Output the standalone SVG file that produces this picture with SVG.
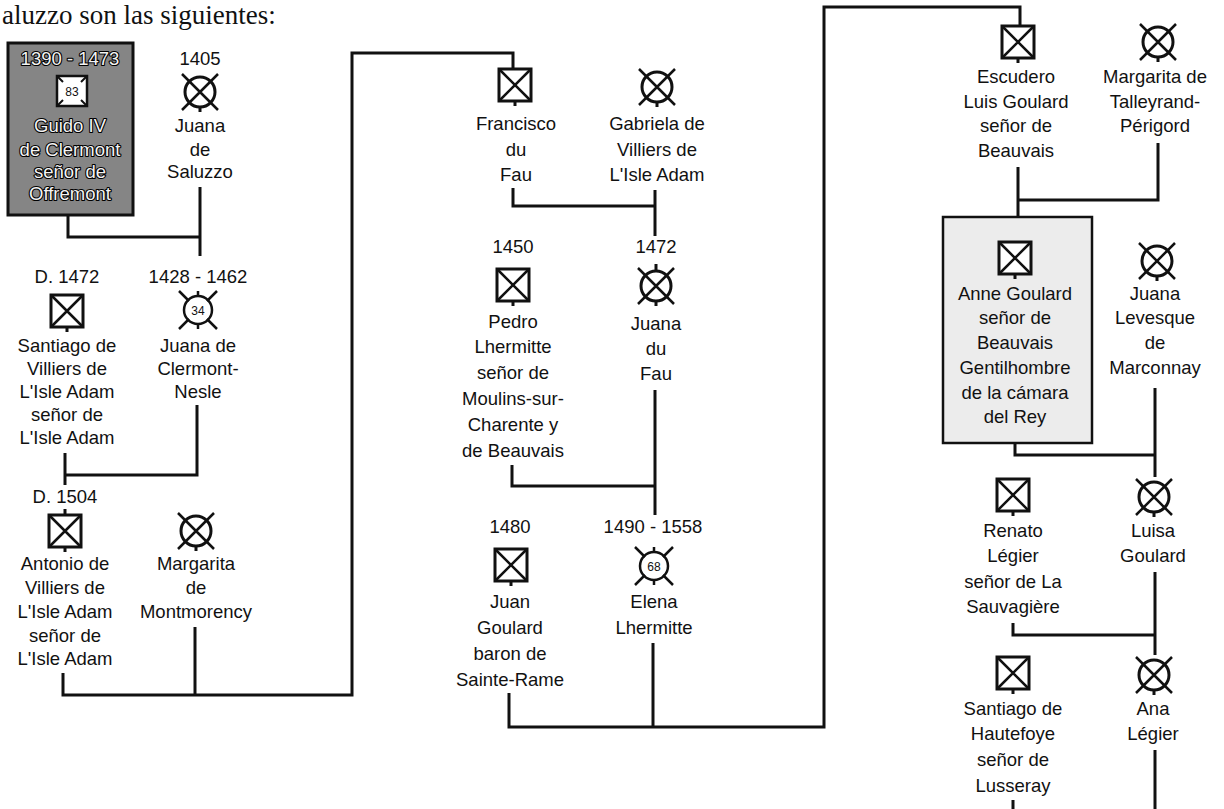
<svg xmlns="http://www.w3.org/2000/svg" width="1224" height="809" viewBox="0 0 1224 809">
<style>
.t{font-family:"Liberation Sans",Arial,sans-serif;font-size:18.5px;text-anchor:middle;fill:#111}
.w{fill:#f4f4f4;stroke:#000;stroke-width:2.2px;paint-order:stroke;stroke-linejoin:round}
.n{font-family:"Liberation Sans",Arial,sans-serif;font-size:12px;text-anchor:middle;fill:#111}
.c{fill:none;stroke:#111;stroke-width:3;stroke-linejoin:miter}
.hd{font-family:"Liberation Serif","Times New Roman",serif;font-size:27px;fill:#111}
</style>
<defs>
<g id="male">
<rect x="-16" y="-16" width="32" height="32" fill="#fff" stroke="#111" stroke-width="3"/>
<path d="M-16,-16 L16,16 M16,-16 L-16,16" stroke="#111" stroke-width="2.5"/>
<path d="M0,16 V21" stroke="#111" stroke-width="3"/>
</g>
<g id="female">
<circle r="15" fill="none" stroke="#111" stroke-width="3"/>
<path d="M-18,-18 L18,18 M18,-18 L-18,18" stroke="#111" stroke-width="2.5"/>
<path d="M0,15 V20" stroke="#111" stroke-width="3"/>
</g>
<g id="female-age">
<circle r="14" fill="#fff" stroke="#111" stroke-width="2.5"/>
<path d="M-19,-19 L-9,-9 M19,-19 L9,-9 M-19,19 L-9,9 M19,19 L9,9 M0,-14 V-19 M0,14 V19" stroke="#111" stroke-width="2.5"/>
</g>
</defs>

<text class="hd" x="2" y="24">aluzzo son las siguientes:</text>

<g id="connectors" class="c">
<path d="M68,215 V237 H200"/>
<path d="M200,187 V256"/>
<path d="M65,453 V485"/>
<path d="M65,475 H197 V405"/>
<path d="M63,673 V695 H352 V53 H513 V68"/>
<path d="M195,627 V695"/>
<path d="M513,188 V206 H655"/>
<path d="M655,190 V236"/>
<path d="M512,465 V486 H655"/>
<path d="M655,390 V515"/>
<path d="M509,693 V727 H824 V7 H1020 V25"/>
<path d="M653,643 V727"/>
<path d="M1018,167 V217"/>
<path d="M1018,200 H1158 V143"/>
<path d="M1015,443 V455 H1155"/>
<path d="M1155,388 V477"/>
<path d="M1013,623 V635 H1155"/>
<path d="M1155,572 V655"/>
<path d="M1155,750 V809"/>
<path d="M1013,800 V809"/>
</g>

<g id="guido">
<rect x="8" y="43" width="125" height="172" fill="#858585" stroke="#111" stroke-width="3"/>
<text class="t w" x="70" y="65">1390 - 1473</text>
<rect x="57" y="76" width="30" height="30" fill="#fff" stroke="#111" stroke-width="2.5"/>
<path d="M57,76 L63,82 M87,76 L81,82 M57,106 L63,100 M87,106 L81,100" stroke="#111" stroke-width="2"/>
<text class="n" x="72" y="95.5">83</text>
<text class="t w" x="70" y="132">Guido IV</text>
<text class="t w" x="70" y="156">de Clermont</text>
<text class="t w" x="70" y="178">señor de</text>
<text class="t w" x="70" y="200">Offremont</text>
</g>

<g id="juana-saluzzo">
<text class="t" x="200" y="65">1405</text>
<use href="#female" x="200" y="92"/>
<text class="t" x="200" y="132">Juana</text>
<text class="t" x="200" y="156">de</text>
<text class="t" x="200" y="178">Saluzzo</text>
</g>

<g id="santiago-villiers">
<text class="t" x="67" y="283">D. 1472</text>
<use href="#male" x="67" y="311"/>
<text class="t" x="67" y="352">Santiago de</text>
<text class="t" x="67" y="375">Villiers de</text>
<text class="t" x="67" y="398">L'Isle Adam</text>
<text class="t" x="67" y="421">señor de</text>
<text class="t" x="67" y="444">L'Isle Adam</text>
</g>

<g id="juana-clermont">
<text class="t" x="198" y="283">1428 - 1462</text>
<use href="#female-age" x="198" y="310"/>
<text class="n" x="198" y="314.5">34</text>
<text class="t" x="198" y="352">Juana de</text>
<text class="t" x="198" y="375">Clermont-</text>
<text class="t" x="198" y="398">Nesle</text>
</g>

<g id="antonio">
<text class="t" x="65" y="503">D. 1504</text>
<path d="M65,509 V515" stroke="#111" stroke-width="3"/>
<use href="#male" x="65" y="531"/>
<text class="t" x="65" y="570">Antonio de</text>
<text class="t" x="65" y="594">Villiers de</text>
<text class="t" x="65" y="618">L'Isle Adam</text>
<text class="t" x="65" y="642">señor de</text>
<text class="t" x="65" y="665">L'Isle Adam</text>
</g>

<g id="margarita-montmorency">
<use href="#female" x="196" y="531"/>
<text class="t" x="196" y="570">Margarita</text>
<text class="t" x="196" y="594">de</text>
<text class="t" x="196" y="618">Montmorency</text>
</g>

<g id="francisco">
<use href="#male" x="515" y="85"/>
<text class="t" x="516" y="130">Francisco</text>
<text class="t" x="516" y="155.5">du</text>
<text class="t" x="516" y="181">Fau</text>
</g>

<g id="gabriela">
<use href="#female" x="657" y="87"/>
<text class="t" x="657" y="130">Gabriela de</text>
<text class="t" x="657" y="155.5">Villiers de</text>
<text class="t" x="657" y="181">L'Isle Adam</text>
</g>

<g id="pedro">
<text class="t" x="513" y="253">1450</text>
<use href="#male" x="513" y="285"/>
<text class="t" x="513" y="328">Pedro</text>
<text class="t" x="513" y="353">Lhermitte</text>
<text class="t" x="513" y="379">señor de</text>
<text class="t" x="513" y="405">Moulins-sur-</text>
<text class="t" x="513" y="431">Charente y</text>
<text class="t" x="513" y="457">de Beauvais</text>
</g>

<g id="juana-dufau">
<text class="t" x="656" y="253">1472</text>
<use href="#female" x="656" y="286"/>
<path d="M656,264 V270" stroke="#111" stroke-width="3"/>
<text class="t" x="656" y="330">Juana</text>
<text class="t" x="656" y="355">du</text>
<text class="t" x="656" y="380">Fau</text>
</g>

<g id="juan">
<text class="t" x="510" y="533">1480</text>
<use href="#male" x="511" y="565"/>
<text class="t" x="510" y="608">Juan</text>
<text class="t" x="510" y="634">Goulard</text>
<text class="t" x="510" y="660">baron de</text>
<text class="t" x="510" y="686">Sainte-Rame</text>
</g>

<g id="elena">
<text class="t" x="653" y="533">1490 - 1558</text>
<use href="#female-age" x="654" y="566"/>
<text class="n" x="654" y="570.5">68</text>
<text class="t" x="654" y="608">Elena</text>
<text class="t" x="654" y="634">Lhermitte</text>
</g>

<g id="escudero">
<use href="#male" x="1018" y="42"/>
<text class="t" x="1016" y="83">Escudero</text>
<text class="t" x="1016" y="108">Luis Goulard</text>
<text class="t" x="1016" y="132">señor de</text>
<text class="t" x="1016" y="157">Beauvais</text>
</g>

<g id="margarita-talleyrand">
<use href="#female" x="1158" y="42"/>
<text class="t" x="1155" y="83">Margarita de</text>
<text class="t" x="1155" y="108">Talleyrand-</text>
<text class="t" x="1155" y="132">Périgord</text>
</g>

<g id="anne">
<rect x="943" y="217" width="149" height="226" fill="#ececec" stroke="#111" stroke-width="2.5"/>
<use href="#male" x="1015" y="258"/>
<text class="t" x="1015" y="300">Anne Goulard</text>
<text class="t" x="1015" y="324">señor de</text>
<text class="t" x="1015" y="349">Beauvais</text>
<text class="t" x="1015" y="374">Gentilhombre</text>
<text class="t" x="1015" y="399">de la cámara</text>
<text class="t" x="1015" y="423">del Rey</text>
</g>

<g id="juana-levesque">
<use href="#female" x="1157" y="261"/>
<text class="t" x="1155" y="300">Juana</text>
<text class="t" x="1155" y="324">Levesque</text>
<text class="t" x="1155" y="349">de</text>
<text class="t" x="1155" y="374">Marconnay</text>
</g>

<g id="renato">
<use href="#male" x="1013" y="495"/>
<text class="t" x="1013" y="537">Renato</text>
<text class="t" x="1013" y="562">Légier</text>
<text class="t" x="1013" y="588">señor de La</text>
<text class="t" x="1013" y="613">Sauvagière</text>
</g>

<g id="luisa">
<use href="#female" x="1154" y="497"/>
<text class="t" x="1153" y="537">Luisa</text>
<text class="t" x="1153" y="562">Goulard</text>
</g>

<g id="santiago-hautefoye">
<use href="#male" x="1013" y="673"/>
<text class="t" x="1013" y="715">Santiago de</text>
<text class="t" x="1013" y="740">Hautefoye</text>
<text class="t" x="1013" y="766">señor de</text>
<text class="t" x="1013" y="792">Lusseray</text>
</g>

<g id="ana">
<use href="#female" x="1154" y="675"/>
<text class="t" x="1153" y="715">Ana</text>
<text class="t" x="1153" y="740">Légier</text>
</g>
</svg>
